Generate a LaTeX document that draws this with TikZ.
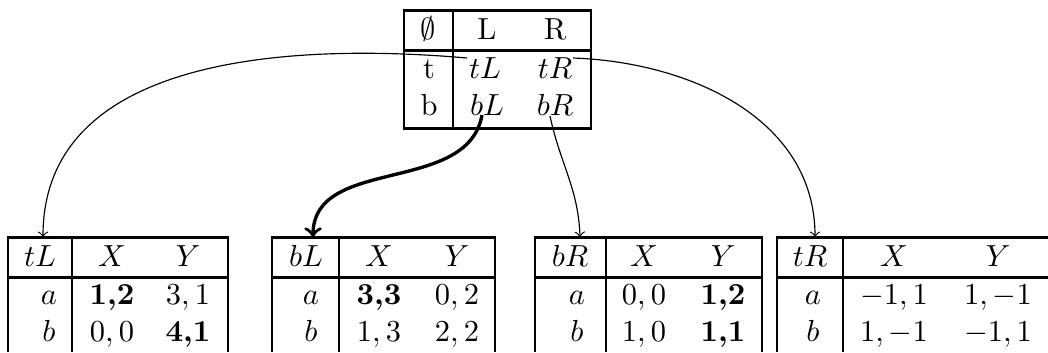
\documentclass[tikz,border=0pt]{standalone}
\usetikzlibrary{calc}
\tikzset{
  txt/.style={anchor=base, inner sep=0pt, font=\fontsize{10}{12}\selectfont},
  hrule/.style={line width=0.98pt},
  vout/.style={line width=0.82pt},
  vin/.style={line width=0.66pt},
  conn/.style={->, line width=0.38pt},
  bigconn/.style={->, line width=1.1pt}
}
\begin{document}
\begin{tikzpicture}[x=0.328pt,y=0.328pt]
\path[use as bounding box] (0,0) rectangle (1048,-352);
% ---------- top table ----------
\draw[hrule] (403,-10) -- (592,-10);
\draw[hrule] (403,-50) -- (592,-50);
\draw[hrule] (403,-128) -- (592,-128);
\draw[vout] (404,-10) -- (404,-128);
\draw[vout] (591,-10) -- (591,-128);
\draw[vin] (453,-10) -- (453,-128);
\node[txt] (e0) at (428,-39) {$\emptyset$};
\node[txt] (hL) at (487,-39) {L};
\node[txt] (hR) at (555,-39) {R};
\node[txt] (rt) at (429,-78) {t};
\node[txt] (ttL) at (485,-78) {$tL$};
\node[txt] (ttR) at (555,-78) {$tR$};
\node[txt] (rb) at (429,-115) {b};
\node[txt] (tbL) at (487,-115) {$bL$};
\node[txt] (tbR) at (555,-115) {$bR$};
% ---------- table 1 : tL ----------
\draw[hrule] (7,-237) -- (229,-237);
\draw[hrule] (7,-277) -- (229,-277);
\draw[vout] (8,-237) -- (8,-352);
\draw[vout] (228,-237) -- (228,-352);
\draw[vin] (72,-237) -- (72,-352);
\node[txt] (l1) at (40,-266) {$tL$};
\node[txt] (x1) at (112,-266) {$X$};
\node[txt] (y1) at (188,-266) {$Y$};
\node[txt] (a1) at (49,-304) {$a$};
\node[txt] (b1) at (49,-341) {$b$};
\node[txt] (a1x) at (112,-304) {\textbf{1,2}};
\node[txt] (a1y) at (188,-304) {$3,1$};
\node[txt] (b1x) at (112,-341) {$0,0$};
\node[txt] (b1y) at (188,-341) {\textbf{4,1}};
% ---------- table 2 : bL ----------
\draw[hrule] (271,-237) -- (496,-237);
\draw[hrule] (271,-277) -- (496,-277);
\draw[vout] (272,-237) -- (272,-352);
\draw[vout] (495,-237) -- (495,-352);
\draw[vin] (339,-237) -- (339,-352);
\node[txt] (l2) at (306,-266) {$bL$};
\node[txt] (x2) at (379,-266) {$X$};
\node[txt] (y2) at (457,-266) {$Y$};
\node[txt] (a2) at (311,-304) {$a$};
\node[txt] (b2) at (311,-341) {$b$};
\node[txt] (a2x) at (379,-304) {\textbf{3,3}};
\node[txt] (a2y) at (457,-304) {$0,2$};
\node[txt] (b2x) at (379,-341) {$1,3$};
\node[txt] (b2y) at (457,-341) {$2,2$};
% ---------- table 3 : bR ----------
\draw[hrule] (534,-237) -- (763,-237);
\draw[hrule] (534,-277) -- (763,-277);
\draw[vout] (535,-237) -- (535,-352);
\draw[vout] (762,-237) -- (762,-352);
\draw[vin] (606,-237) -- (606,-352);
\node[txt] (l3) at (570,-266) {$bR$};
\node[txt] (x3) at (644,-266) {$X$};
\node[txt] (y3) at (723,-266) {$Y$};
\node[txt] (a3) at (577,-304) {$a$};
\node[txt] (b3) at (577,-341) {$b$};
\node[txt] (a3x) at (644,-304) {$0,0$};
\node[txt] (a3y) at (723,-304) {\textbf{1,2}};
\node[txt] (b3x) at (644,-341) {$1,0$};
\node[txt] (b3y) at (723,-341) {\textbf{1,1}};
% ---------- table 4 : tR ----------
\draw[hrule] (776,-237) -- (1048,-237);
\draw[hrule] (776,-277) -- (1048,-277);
\draw[vout] (777,-237) -- (777,-352);
\draw[vin] (843,-237) -- (843,-352);
\node[txt] (l4) at (810,-266) {$tR$};
\node[txt] (x4) at (894,-266) {$X$};
\node[txt] (y4) at (998,-266) {$Y$};
\node[txt] (a4) at (813,-304) {$a$};
\node[txt] (b4) at (813,-341) {$b$};
\node[txt] (a4x) at (894,-304) {$-1,1$};
\node[txt] (a4y) at (998,-304) {$1,-1$};
\node[txt] (b4x) at (894,-341) {$1,-1$};
\node[txt] (b4y) at (998,-341) {$-1,1$};
% ---------- connectors ----------
\draw[conn] ($(ttL.base)+(-18,20)$) to[out=175,in=90] ($(l1.base)+(3,29)$);
\draw[conn] ($(ttR.base)+(18,20)$) to[out=-2,in=90] ($(l4.base)+(5,29)$);
\draw[bigconn] ($(tbL.base)+(-5,0)$) to[out=-100,in=90] ($(l2.base)+(7,29)$);
\draw[conn] ($(tbR.base)+(-5,-1)$) to[out=-78,in=92] ($(l3.base)+(10,29)$);
\end{tikzpicture}
\end{document}
